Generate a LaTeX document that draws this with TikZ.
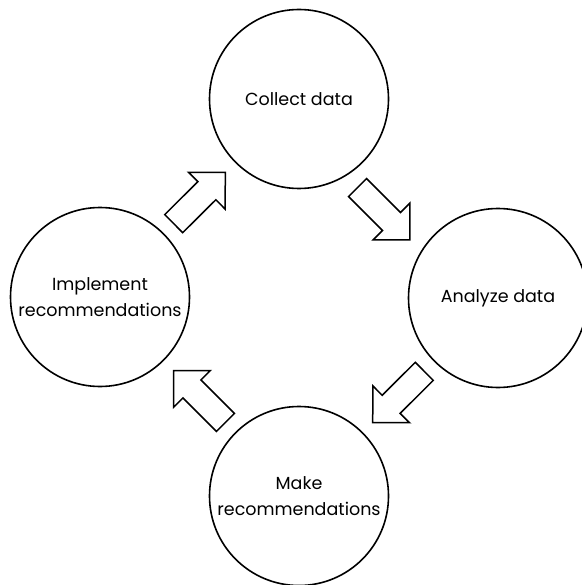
\documentclass[tikz,border=0pt]{standalone}
\usepackage{fontspec}
\setmainfont{Poppins}
\usetikzlibrary{calc}
\newcommand\cycarrow[2]{%
  \draw[cyclearrow] let \p1=(#1), \p2=(#2), \n1={atan2(\y2-\y1,\x2-\x1)} in
    (\p2) -- ($(\p2)+({\n1+135}:36.8pt)$)
    -- ($(\p2)+({\n1+180}:26pt)+({\n1+90}:12.75pt)$)
    -- ($(\p1)+({\n1+90}:12.75pt)$)
    -- ($(\p1)+({\n1-90}:12.75pt)$)
    -- ($(\p2)+({\n1+180}:26pt)+({\n1-90}:12.75pt)$)
    -- ($(\p2)+({\n1-135}:36.8pt)$) -- cycle;}
\begin{document}
\begin{tikzpicture}[x=1pt,y=-1pt,
  stage/.style={circle, draw, line width=1.6pt, minimum size=179pt, inner sep=0pt,
    align=center, font=\fontsize{17.5}{26}\selectfont},
  cyclearrow/.style={draw, line width=1.5pt, line join=miter, fill=white}]
\fill[white] (0,0) rectangle (581,585);
\useasboundingbox (0,0) rectangle (581,585);
\node[stage] (top) at (299,99) {Collect data};
\node[stage] (right) at (498,298) {Analyze data};
\node[stage] (bottom) at (299,496) {Make\\recommendations};
\node[stage] (left) at (100,297) {Implement\\recommendations};
\coordinate (a1s) at ($(left.center)!104pt!(top.center)$);
\coordinate (a1e) at ($(top.center)!104pt!(left.center)$);
\coordinate (a2s) at ($(top.center)!104pt!(right.center)+(-15,15)$);
\coordinate (a2e) at ($(top.center)!178pt!(right.center)+(-15,15)$);
\coordinate (a3s) at ($(right.center)!104pt!(bottom.center)$);
\coordinate (a3e) at ($(bottom.center)!104pt!(right.center)$);
\coordinate (a4s) at ($(bottom.center)!104pt!(left.center)$);
\coordinate (a4e) at ($(left.center)!104pt!(bottom.center)$);
\cycarrow{a1s}{a1e}
\cycarrow{a2s}{a2e}
\cycarrow{a3s}{a3e}
\cycarrow{a4s}{a4e}
\end{tikzpicture}
\end{document}
